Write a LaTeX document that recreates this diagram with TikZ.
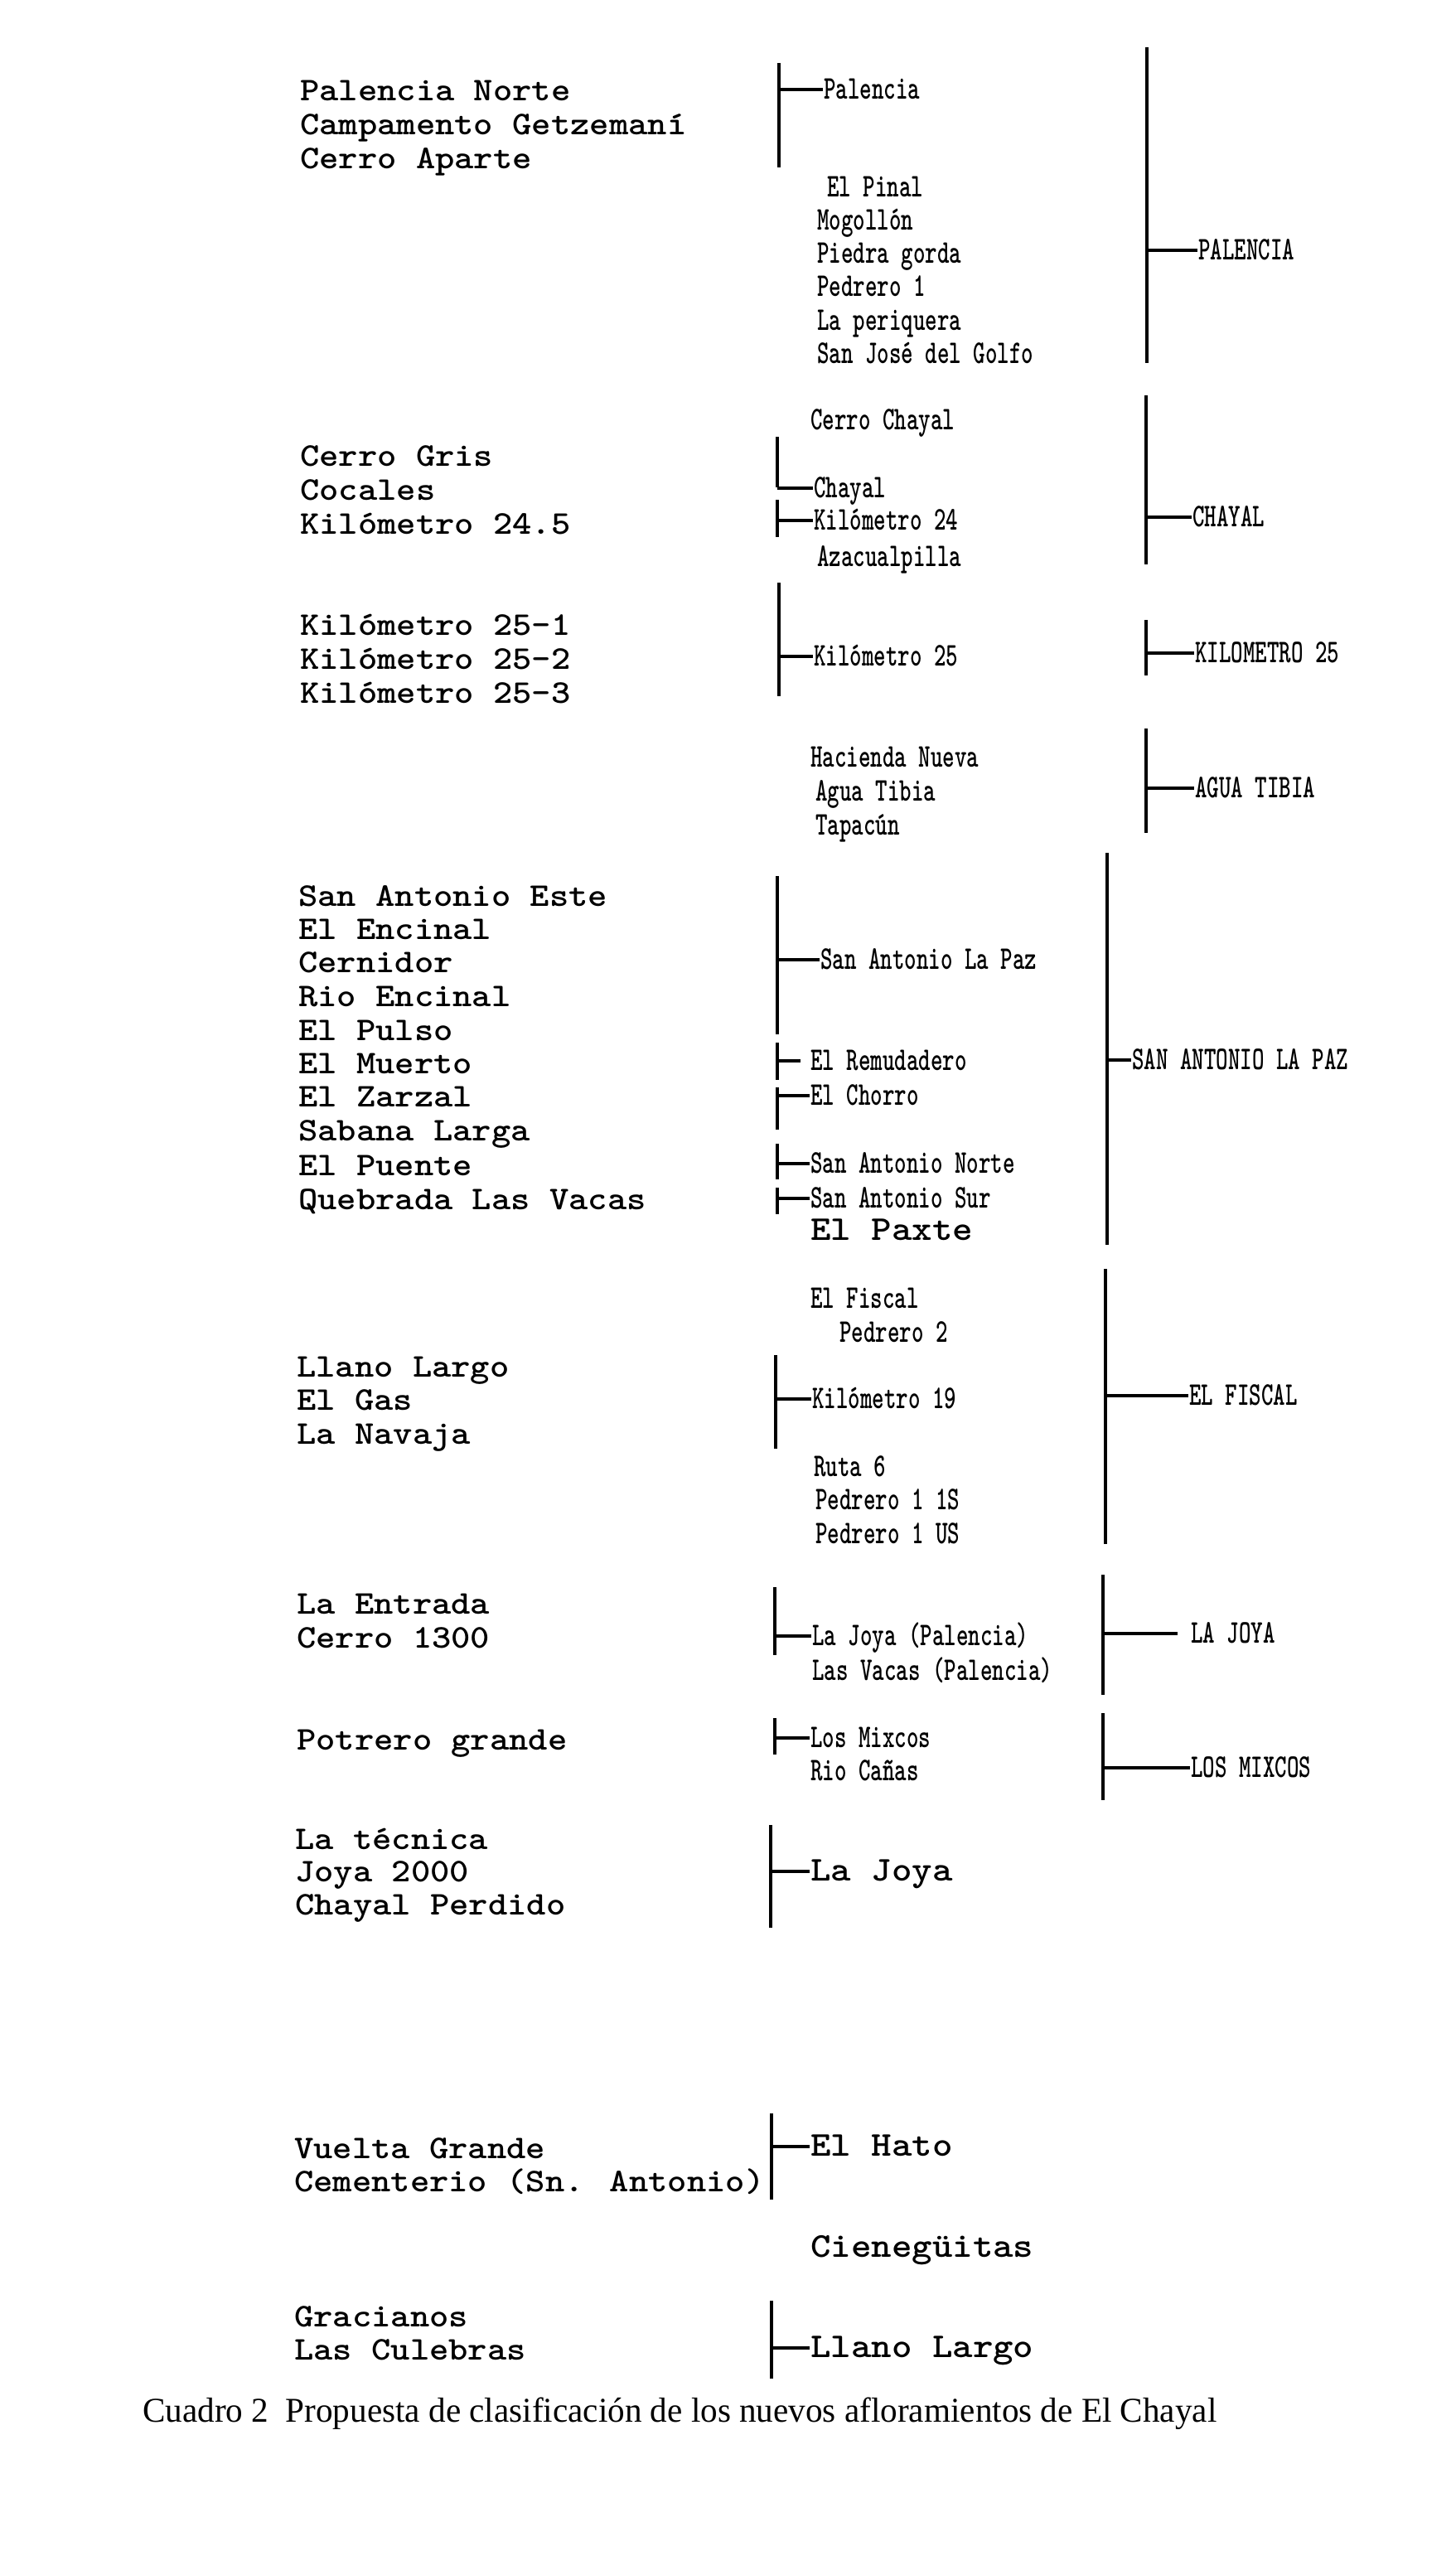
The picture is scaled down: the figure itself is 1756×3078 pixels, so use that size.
\documentclass[tikz,border=0pt]{standalone}
\usepackage{fontspec}
\usepackage{graphicx}
\newfontfamily\capfont{Liberation Serif}
\newcommand\wideT[1]{\scalebox{1.11}[1]{#1}}
\newcommand\condT[1]{\scalebox{0.69}[1]{#1}}
\begin{document}
\begin{tikzpicture}[x=1pt,y=-1pt,
  lt/.style={anchor=west, inner sep=0pt, text height=22pt, text depth=0pt,
             font={\ttfamily\bfseries\fontsize{40}{40}\selectfont}},
  bt/.style={lt, text height=23pt, font={\ttfamily\bfseries\fontsize{42}{42}\selectfont}},
  bar/.style={line width=3.2pt},
  tick/.style={line width=3.2pt, shorten >=1pt},
  captext/.style={anchor=base west, inner sep=0pt, font={\capfont\fontsize{42}{42}\selectfont}}]
\fill[white] (0,0) rectangle (1756,3078);
\useasboundingbox (0,0) rectangle (1756,3078);

% ---------- group 1 : PALENCIA ----------
\node[lt] (pn) at (362,110) {\wideT{Palencia Norte}};
\node[lt] (cg) at (362,151) {\wideT{Campamento Getzemaní}};
\node[lt] (ca) at (362,192) {\wideT{Cerro Aparte}};
\coordinate (b1t) at (940,76); \coordinate (b1b) at (940,202);
\draw[bar] (b1t) -- (b1b);
\node[lt] (pal) at (994,108) {\condT{Palencia}};
\draw[tick] (pal.west -| b1t) -- (pal.west);
\node[lt] (pin) at (998,226) {\condT{El Pinal}};
\node[lt] (mog) at (986,266) {\condT{Mogollón}};
\node[lt] (pgo) at (986,306) {\condT{Piedra gorda}};
\node[lt] (pe1) at (986,346) {\condT{Pedrero 1}};
\node[lt] (per) at (986,387) {\condT{La periquera}};
\node[lt] (sjg) at (986,427) {\condT{San José del Golfo}};
\coordinate (r1t) at (1384,57); \coordinate (r1b) at (1384,438);
\draw[bar] (r1t) -- (r1b);
\node[lt] (PAL) at (1446,302) {\condT{PALENCIA}};
\draw[tick] (PAL.west -| r1t) -- (PAL.west);

% ---------- group 2 : CHAYAL ----------
\node[lt] (cgr) at (362,551) {\wideT{Cerro Gris}};
\node[lt] (coc) at (362,592) {\wideT{Cocales}};
\node[lt] (k245) at (362,633) {\wideT{Kilómetro 24.5}};
\node[lt] (cch) at (978,507) {\condT{Cerro Chayal}};
\coordinate (b2at) at (938,527); \coordinate (b2ab) at (938,588);
\draw[bar] (b2at) -- (b2ab);
\node[lt] (cha) at (982,589) {\condT{Chayal}};
\draw[tick] (cha.west -| b2at) -- (cha.west);
\coordinate (b2bt) at (938,603); \coordinate (b2bb) at (938,648);
\draw[bar] (b2bt) -- (b2bb);
\node[lt] (k24) at (982,628) {\condT{Kilómetro 24}};
\draw[tick] (k24.west -| b2bt) -- (k24.west);
\node[lt] (aza) at (986,672) {\condT{Azacualpilla}};
\coordinate (r2t) at (1383,477); \coordinate (r2b) at (1383,681);
\draw[bar] (r2t) -- (r2b);
\node[lt] (CHA) at (1439,624) {\condT{CHAYAL}};
\draw[tick] (CHA.west -| r2t) -- (CHA.west);

% ---------- group 3 : KILOMETRO 25 ----------
\node[lt] (k251) at (362,755) {\wideT{Kilómetro 25-1}};
\node[lt] (k252) at (362,796) {\wideT{Kilómetro 25-2}};
\node[lt] (k253) at (362,837) {\wideT{Kilómetro 25-3}};
\coordinate (b3t) at (940,703); \coordinate (b3b) at (940,840);
\draw[bar] (b3t) -- (b3b);
\node[lt] (k25) at (982,792) {\condT{Kilómetro 25}};
\draw[tick] (k25.west -| b3t) -- (k25.west);
\coordinate (r3t) at (1383,748); \coordinate (r3b) at (1383,815);
\draw[bar] (r3t) -- (r3b);
\node[lt] (K25) at (1442,788) {\condT{KILOMETRO 25}};
\draw[tick] (K25.west -| r3t) -- (K25.west);

% ---------- group 4 : AGUA TIBIA ----------
\node[lt] (hac) at (978,914) {\condT{Hacienda Nueva}};
\node[lt] (agu) at (984,955) {\condT{Agua Tibia}};
\node[lt] (tap) at (984,996) {\condT{Tapacún}};
\coordinate (r4t) at (1383,879); \coordinate (r4b) at (1383,1005);
\draw[bar] (r4t) -- (r4b);
\node[lt] (AGU) at (1442,951) {\condT{AGUA TIBIA}};
\draw[tick] (AGU.west -| r4t) -- (AGU.west);

% ---------- group 5 : SAN ANTONIO LA PAZ ----------
\node[lt] (sae) at (360,1082) {\wideT{San Antonio Este}};
\node[lt] (ene) at (360,1122) {\wideT{El Encinal}};
\node[lt] (cer) at (360,1162) {\wideT{Cernidor}};
\node[lt] (rie) at (360,1203) {\wideT{Rio Encinal}};
\node[lt] (pul) at (360,1244) {\wideT{El Pulso}};
\node[lt] (mue) at (360,1284) {\wideT{El Muerto}};
\node[lt] (zar) at (360,1324) {\wideT{El Zarzal}};
\node[lt] (sab) at (360,1365) {\wideT{Sabana Larga}};
\node[lt] (pue) at (360,1407) {\wideT{El Puente}};
\node[lt] (que) at (360,1448) {\wideT{Quebrada Las Vacas}};
\coordinate (b5at) at (938,1057); \coordinate (b5ab) at (938,1248);
\draw[bar] (b5at) -- (b5ab);
\node[lt] (sal) at (990,1158) {\condT{San Antonio La Paz}};
\draw[tick] (sal.west -| b5at) -- (sal.west);
\coordinate (b5bt) at (938,1258); \coordinate (b5bb) at (938,1303);
\draw[bar] (b5bt) -- (b5bb);
\node[lt] (rem) at (978,1280) {\condT{El Remudadero}};
\draw[tick, shorten >=12pt] (rem.west -| b5bt) -- (rem.west);
\coordinate (b5ct) at (938,1312); \coordinate (b5cb) at (938,1363);
\draw[bar] (b5ct) -- (b5cb);
\node[lt] (cho) at (978,1322) {\condT{El Chorro}};
\draw[tick] (cho.west -| b5ct) -- (cho.west);
\coordinate (b5dt) at (938,1380); \coordinate (b5db) at (938,1423);
\draw[bar] (b5dt) -- (b5db);
\node[lt] (san) at (978,1404) {\condT{San Antonio Norte}};
\draw[tick] (san.west -| b5dt) -- (san.west);
\coordinate (b5et) at (938,1433); \coordinate (b5eb) at (938,1465);
\draw[bar] (b5et) -- (b5eb);
\node[lt] (sas) at (978,1446) {\condT{San Antonio Sur}};
\draw[tick] (sas.west -| b5et) -- (sas.west);
\node[bt] (pax) at (978,1485) {\wideT{El Paxte}};
\coordinate (r5t) at (1336,1029); \coordinate (r5b) at (1336,1502);
\draw[bar] (r5t) -- (r5b);
\node[lt] (SAL) at (1366,1279) {\condT{SAN ANTONIO LA PAZ}};
\draw[tick] (SAL.west -| r5t) -- (SAL.west);

% ---------- group 6 : EL FISCAL ----------
\node[lt] (fis) at (978,1567) {\condT{El Fiscal}};
\node[lt] (pe2) at (1013,1608) {\condT{Pedrero 2}};
\node[lt] (lla) at (358,1650) {\wideT{Llano Largo}};
\node[lt] (gas) at (358,1690) {\wideT{El Gas}};
\node[lt] (nav) at (358,1731) {\wideT{La Navaja}};
\coordinate (b6t) at (936,1635); \coordinate (b6b) at (936,1748);
\draw[bar] (b6t) -- (b6b);
\node[lt] (k19) at (980,1688) {\condT{Kilómetro 19}};
\draw[tick] (k19.west -| b6t) -- (k19.west);
\node[lt] (rut) at (982,1770) {\condT{Ruta 6}};
\node[lt] (p1s) at (984,1810) {\condT{Pedrero 1 1S}};
\node[lt] (p1u) at (984,1851) {\condT{Pedrero 1 US}};
\coordinate (r6t) at (1334,1531); \coordinate (r6b) at (1334,1863);
\draw[bar] (r6t) -- (r6b);
\node[lt] (FIS) at (1435,1684) {\condT{EL FISCAL}};
\draw[tick] (FIS.west -| r6t) -- (FIS.west);

% ---------- group 7 : LA JOYA ----------
\node[lt] (ent) at (358,1936) {\wideT{La Entrada}};
\node[lt] (c13) at (358,1977) {\wideT{Cerro 1300}};
\coordinate (b7t) at (935,1915); \coordinate (b7b) at (935,1997);
\draw[bar] (b7t) -- (b7b);
\node[lt] (ljp) at (980,1974) {\condT{La Joya (Palencia)}};
\draw[tick] (ljp.west -| b7t) -- (ljp.west);
\node[lt] (lvp) at (980,2016) {\condT{Las Vacas (Palencia)}};
\coordinate (r7t) at (1331,1900); \coordinate (r7b) at (1331,2045);
\draw[bar] (r7t) -- (r7b);
\node[lt] (LJO) at (1437,1971) {\condT{LA JOYA}};
\draw[tick, shorten >=16pt] (LJO.west -| r7t) -- (LJO.west);

% ---------- group 8 : LOS MIXCOS ----------
\node[lt] (pot) at (358,2100) {\wideT{Potrero grande}};
\coordinate (b8t) at (935,2073); \coordinate (b8b) at (935,2117);
\draw[bar] (b8t) -- (b8b);
\node[lt] (mix) at (978,2097) {\condT{Los Mixcos}};
\draw[tick] (mix.west -| b8t) -- (mix.west);
\node[lt] (rca) at (978,2137) {\condT{Rio Cañas}};
\coordinate (r8t) at (1331,2067); \coordinate (r8b) at (1331,2172);
\draw[bar] (r8t) -- (r8b);
\node[lt] (MIX) at (1437,2133) {\condT{LOS MIXCOS}};
\draw[tick] (MIX.west -| r8t) -- (MIX.west);

% ---------- group 9 : La Joya ----------
\node[lt] (tec) at (356,2220) {\wideT{La técnica}};
\node[lt] (j20) at (356,2259) {\wideT{Joya 2000}};
\node[lt] (chp) at (356,2299) {\wideT{Chayal Perdido}};
\coordinate (b9t) at (930,2202); \coordinate (b9b) at (930,2326);
\draw[bar] (b9t) -- (b9b);
\node[bt] (ljo) at (978,2258) {\wideT{La Joya}};
\draw[tick] (ljo.west -| b9t) -- (ljo.west);

% ---------- group 10 : El Hato ----------
\node[lt] (vue) at (355,2593) {\wideT{Vuelta Grande}};
\node[lt] (cem) at (355,2633) {\wideT{Cementerio (Sn. Antonio)}};
\coordinate (b10t) at (931,2550); \coordinate (b10b) at (931,2654);
\draw[bar] (b10t) -- (b10b);
\node[bt] (hat) at (978,2590) {\wideT{El Hato}};
\draw[tick] (hat.west -| b10t) -- (hat.west);
\node[bt] (cie) at (978,2712) {\wideT{Cienegüitas}};

% ---------- group 11 : Llano Largo ----------
\node[lt] (gra) at (355,2796) {\wideT{Gracianos}};
\node[lt] (cul) at (355,2836) {\wideT{Las Culebras}};
\coordinate (b11t) at (931,2776); \coordinate (b11b) at (931,2870);
\draw[bar] (b11t) -- (b11b);
\node[bt] (llg) at (978,2833) {\wideT{Llano Largo}};
\draw[tick] (llg.west -| b11t) -- (llg.west);

% ---------- caption ----------
\node[captext] (caption) at (172,2922) {\scalebox{0.98}[1]{Cuadro 2\ \ Propuesta de clasificación de los nuevos afloramientos de El Chayal}};
\end{tikzpicture}
\end{document}
